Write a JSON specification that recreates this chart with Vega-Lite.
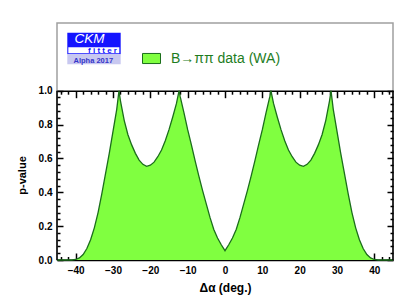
{
  "$schema": "https://vega.github.io/schema/vega-lite/v6.json",
  "width": 336,
  "height": 237,
  "autosize": {"type": "none"},
  "padding": {"left": 57, "top": 23, "right": 21, "bottom": 43},
  "background": "white",
  "config": {
    "view": {"stroke": "#a0a0a0", "strokeWidth": 1.5},
    "font": "Liberation Sans",
    "axis": {"grid": false}
  },
  "data": {
    "values": [
      {"x": -45, "p": 0}, {"x": -41, "p": 0}, {"x": -40, "p": 0.003}, {"x": -39, "p": 0.012},
      {"x": -38, "p": 0.032}, {"x": -37, "p": 0.068}, {"x": -36, "p": 0.12}, {"x": -35, "p": 0.19},
      {"x": -34, "p": 0.28}, {"x": -33, "p": 0.39}, {"x": -32, "p": 0.51}, {"x": -31, "p": 0.63},
      {"x": -30, "p": 0.76}, {"x": -29, "p": 0.89}, {"x": -28.4, "p": 1.0}, {"x": -28, "p": 0.94},
      {"x": -27, "p": 0.825}, {"x": -26, "p": 0.74}, {"x": -25, "p": 0.68}, {"x": -24, "p": 0.63},
      {"x": -23, "p": 0.59}, {"x": -22, "p": 0.565}, {"x": -21, "p": 0.553}, {"x": -20, "p": 0.56},
      {"x": -19, "p": 0.578}, {"x": -18, "p": 0.61}, {"x": -17, "p": 0.65}, {"x": -16, "p": 0.705},
      {"x": -15, "p": 0.77}, {"x": -14, "p": 0.845}, {"x": -13, "p": 0.925}, {"x": -12.3, "p": 1.0},
      {"x": -12, "p": 0.965}, {"x": -11, "p": 0.87}, {"x": -10, "p": 0.77}, {"x": -9, "p": 0.68},
      {"x": -8, "p": 0.585}, {"x": -7, "p": 0.495}, {"x": -6, "p": 0.41}, {"x": -5, "p": 0.33},
      {"x": -4, "p": 0.25}, {"x": -3, "p": 0.18}, {"x": -2, "p": 0.13}, {"x": -1, "p": 0.09},
      {"x": 0, "p": 0.055},
      {"x": 1, "p": 0.09}, {"x": 2, "p": 0.13}, {"x": 3, "p": 0.18}, {"x": 4, "p": 0.25},
      {"x": 5, "p": 0.33}, {"x": 6, "p": 0.41}, {"x": 7, "p": 0.495}, {"x": 8, "p": 0.585},
      {"x": 9, "p": 0.68}, {"x": 10, "p": 0.77}, {"x": 11, "p": 0.87}, {"x": 12, "p": 0.965},
      {"x": 12.3, "p": 1.0}, {"x": 13, "p": 0.925}, {"x": 14, "p": 0.845}, {"x": 15, "p": 0.77},
      {"x": 16, "p": 0.705}, {"x": 17, "p": 0.65}, {"x": 18, "p": 0.61}, {"x": 19, "p": 0.578},
      {"x": 20, "p": 0.56}, {"x": 21, "p": 0.553}, {"x": 22, "p": 0.565}, {"x": 23, "p": 0.59},
      {"x": 24, "p": 0.63}, {"x": 25, "p": 0.68}, {"x": 26, "p": 0.74}, {"x": 27, "p": 0.825},
      {"x": 28, "p": 0.94}, {"x": 28.4, "p": 1.0}, {"x": 29, "p": 0.89}, {"x": 30, "p": 0.76},
      {"x": 31, "p": 0.63}, {"x": 32, "p": 0.51}, {"x": 33, "p": 0.39}, {"x": 34, "p": 0.28},
      {"x": 35, "p": 0.19}, {"x": 36, "p": 0.12}, {"x": 37, "p": 0.068}, {"x": 38, "p": 0.032},
      {"x": 39, "p": 0.012}, {"x": 40, "p": 0.003}, {"x": 41, "p": 0}, {"x": 45, "p": 0}
    ]
  },
  "resolve": {"axis": {"x": "independent", "y": "independent"}},
  "layer": [
    {
      "mark": {"type": "area", "fillOpacity": 1},
      "encoding": {
        "x": {
          "field": "x", "type": "quantitative",
          "scale": {"domain": [-45, 45], "nice": false, "zero": false},
          "axis": {
            "values": [-40, -30, -20, -10, 0, 10, 20, 30, 40],
            "ticks": false, "domain": false, "labelPadding": 5,
            "labelFontSize": 10, "labelFontWeight": "bold", "labelColor": "black",
            "title": "Δα (deg.)", "titleFontSize": 12, "titleFontWeight": "bold",
            "titleColor": "black", "titleY": 31, "titleBaseline": "alphabetic"
          }
        },
        "y": {
          "field": "p", "type": "quantitative",
          "scale": {"domain": [0, 1.4], "nice": false},
          "axis": {
            "values": [0, 0.2, 0.4, 0.6, 0.8, 1], "format": ".1f",
            "ticks": false, "domain": false, "labelPadding": 5,
            "labelFontSize": 10, "labelFontWeight": "bold", "labelColor": "black",
            "title": "p-value", "titleFontSize": 11, "titleFontWeight": "bold",
            "titleColor": "black", "titleX": -35, "titleY": 152, "titleAngle": -90,
            "titleAlign": "center", "titleBaseline": "middle"
          }
        },
        "fill": {
          "datum": "B→ππ data (WA)",
          "scale": {"range": ["#80ff40"]},
          "legend": {
            "orient": "none", "legendX": 85, "legendY": 26, "title": null,
            "symbolType": "M-1,-0.56H1V0.56H-1Z", "symbolSize": 324,
            "symbolStrokeColor": "#1b6e1b", "symbolStrokeWidth": 1,
            "labelFontSize": 14, "labelColor": "#1e7d1e", "labelFont": "Liberation Sans",
            "labelOffset": 10, "padding": 0
          }
        }
      }
    },
    {
      "mark": {"type": "line", "color": "#1b6e1b", "strokeWidth": 1.3},
      "encoding": {
        "x": {"field": "x", "type": "quantitative", "scale": {"domain": [-45, 45], "nice": false, "zero": false}, "axis": null},
        "y": {"field": "p", "type": "quantitative", "scale": {"domain": [0, 1.4], "nice": false}, "axis": null}
      }
    },
    {
      "data": {"values": [{}]},
      "mark": {"type": "rule", "color": "black", "strokeWidth": 1.5},
      "encoding": {
        "x": {
          "datum": -45, "type": "quantitative",
          "scale": {"domain": [-45, 45], "nice": false, "zero": false},
          "axis": {
            "orient": "bottom",
            "values": [-44, -42, -40, -38, -36, -34, -32, -30, -28, -26, -24, -22, -20, -18, -16, -14, -12, -10, -8, -6, -4, -2, 0, 2, 4, 6, 8, 10, 12, 14, 16, 18, 20, 22, 24, 26, 28, 30, 32, 34, 36, 38, 40, 42, 44],
            "labels": false, "title": null, "domain": true, "domainColor": "black", "domainWidth": 1.5,
            "tickColor": "black", "tickWidth": 1.5,
            "tickSize": {"condition": {"test": "datum.value % 10 === 0", "value": -7}, "value": -3.5}
          }
        },
        "y": {
          "datum": 0, "type": "quantitative",
          "scale": {"domain": [0, 1.4], "nice": false},
          "axis": {
            "orient": "left",
            "values": [0, 0.04, 0.08, 0.12, 0.16, 0.2, 0.24, 0.28, 0.32, 0.36, 0.4, 0.44, 0.48, 0.52, 0.56, 0.6, 0.64, 0.68, 0.72, 0.76, 0.8, 0.84, 0.88, 0.92, 0.96, 1],
            "labels": false, "title": null, "domain": false,
            "tickColor": "black", "tickWidth": 1.5,
            "tickSize": {"condition": {"test": "abs(datum.value*5 - round(datum.value*5)) < 0.01", "value": -6}, "value": -3}
          }
        },
        "y2": {"datum": 1}
      }
    },
    {
      "data": {"values": [{}]},
      "mark": {"type": "rule", "color": "black", "strokeWidth": 1.5},
      "encoding": {
        "x": {
          "datum": 45, "type": "quantitative",
          "scale": {"domain": [-45, 45], "nice": false, "zero": false},
          "axis": {
            "orient": "top", "offset": -67.7,
            "values": [-44, -42, -40, -38, -36, -34, -32, -30, -28, -26, -24, -22, -20, -18, -16, -14, -12, -10, -8, -6, -4, -2, 0, 2, 4, 6, 8, 10, 12, 14, 16, 18, 20, 22, 24, 26, 28, 30, 32, 34, 36, 38, 40, 42, 44],
            "labels": false, "title": null, "domain": true, "domainColor": "black", "domainWidth": 1.5,
            "tickColor": "black", "tickWidth": 1.5,
            "tickSize": {"condition": {"test": "datum.value % 10 === 0", "value": -7}, "value": -3.5}
          }
        },
        "y": {
          "datum": 0, "type": "quantitative",
          "scale": {"domain": [0, 1.4], "nice": false},
          "axis": {
            "orient": "right",
            "values": [0, 0.04, 0.08, 0.12, 0.16, 0.2, 0.24, 0.28, 0.32, 0.36, 0.4, 0.44, 0.48, 0.52, 0.56, 0.6, 0.64, 0.68, 0.72, 0.76, 0.8, 0.84, 0.88, 0.92, 0.96, 1],
            "labels": false, "title": null, "domain": false,
            "tickColor": "black", "tickWidth": 1.5,
            "tickSize": {"condition": {"test": "abs(datum.value*5 - round(datum.value*5)) < 0.01", "value": -6}, "value": -3}
          }
        },
        "y2": {"datum": 1}
      }
    },
    {
      "data": {"values": [{}]},
      "mark": {"type": "rect", "color": "#1414ff"},
      "encoding": {
        "x": {"datum": -42.24, "type": "quantitative", "scale": {"domain": [-45, 45], "nice": false, "zero": false}, "axis": null},
        "x2": {"datum": -27.94},
        "y": {"datum": 1.3427, "type": "quantitative", "scale": {"domain": [0, 1.4], "nice": false}, "axis": null},
        "y2": {"datum": 1.215}
      }
    },
    {
      "data": {"values": [{}]},
      "mark": {"type": "rect", "color": "white"},
      "encoding": {
        "x": {"datum": -41.97, "type": "quantitative", "scale": {"domain": [-45, 45], "nice": false, "zero": false}, "axis": null},
        "x2": {"datum": -28.31},
        "y": {"datum": 1.2565, "type": "quantitative", "scale": {"domain": [0, 1.4], "nice": false}, "axis": null},
        "y2": {"datum": 1.221}
      }
    },
    {
      "data": {"values": [{}]},
      "mark": {"type": "rect", "color": "#c8c8f0"},
      "encoding": {
        "x": {"datum": -42.24, "type": "quantitative", "scale": {"domain": [-45, 45], "nice": false, "zero": false}, "axis": null},
        "x2": {"datum": -27.94},
        "y": {"datum": 1.215, "type": "quantitative", "scale": {"domain": [0, 1.4], "nice": false}, "axis": null},
        "y2": {"datum": 1.156}
      }
    },
    {
      "data": {"values": [{}]},
      "mark": {"type": "text", "text": "CKM", "color": "white", "fontSize": 13.5, "fontStyle": "italic", "align": "left", "baseline": "alphabetic"},
      "encoding": {
        "x": {"datum": -40.3, "type": "quantitative", "scale": {"domain": [-45, 45], "nice": false, "zero": false}, "axis": null},
        "y": {"datum": 1.2795, "type": "quantitative", "scale": {"domain": [0, 1.4], "nice": false}, "axis": null}
      }
    },
    {
      "data": {"values": [{}]},
      "mark": {"type": "text", "text": "f i t t e r", "color": "#1414ff", "fontSize": 8, "fontWeight": "bold", "align": "center", "baseline": "alphabetic"},
      "encoding": {
        "x": {"datum": -32.81, "type": "quantitative", "scale": {"domain": [-45, 45], "nice": false, "zero": false}, "axis": null},
        "y": {"datum": 1.2205, "type": "quantitative", "scale": {"domain": [0, 1.4], "nice": false}, "axis": null}
      }
    },
    {
      "data": {"values": [{}]},
      "mark": {"type": "text", "text": "Alpha 2017", "color": "#3535c8", "fontSize": 7.5, "fontWeight": "bold", "align": "center", "baseline": "alphabetic"},
      "encoding": {
        "x": {"datum": -35.27, "type": "quantitative", "scale": {"domain": [-45, 45], "nice": false, "zero": false}, "axis": null},
        "y": {"datum": 1.1655, "type": "quantitative", "scale": {"domain": [0, 1.4], "nice": false}, "axis": null}
      }
    }
  ]
}
